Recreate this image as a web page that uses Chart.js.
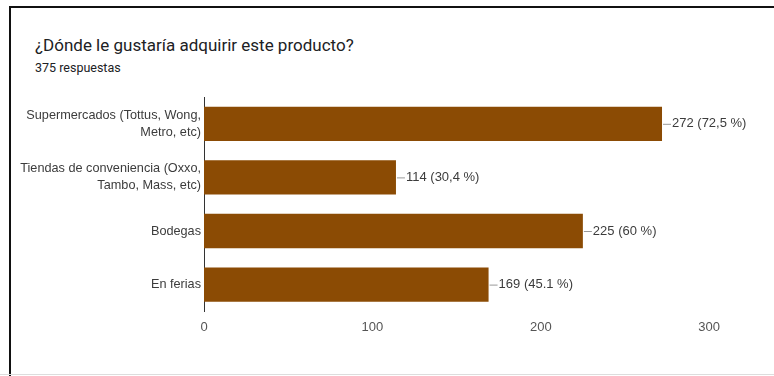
<!DOCTYPE html>
<html>
<head>
<meta charset="utf-8">
<script src="https://cdn.jsdelivr.net/npm/chart.js@4"></script>
<style>
  html, body { margin: 0; padding: 0; background: #fff; }
  #wrap { position: relative; width: 774px; height: 376px; overflow: hidden; background: #fff; }
  #frame { position: absolute; left: 9px; top: 6px; width: 780px; height: 400px;
           border-top: 2px solid #111; border-left: 2px solid #111; }
  #bottom { position: absolute; left: 0; top: 374px; width: 774px; height: 1px; background: #ddd; }
  #title { position: absolute; left: 35px; top: 35px; font: 17px Roboto, sans-serif; color: #202124; }
  #sub { position: absolute; left: 35px; top: 60px; font: 12.5px Roboto, sans-serif; color: #202124; }
  canvas { position: absolute; left: 0; top: 0; }
</style>
</head>
<body>
<div id="wrap">
  <div id="frame"></div>
  <div id="bottom"></div>
  <div id="title">¿Dónde le gustaría adquirir este producto?</div>
  <div id="sub">375 respuestas</div>
  <canvas id="chart-lugar" width="774" height="376"></canvas>
</div>
<script>
// opciones y respuestas
const categorias = [
  ["Supermercados (Tottus, Wong,", "Metro, etc)"],
  ["Tiendas de conveniencia (Oxxo,", "Tambo, Mass, etc)"],
  "Bodegas",
  "En ferias",
];
const respuestas = [272, 114, 225, 169];
const porcentajes = ["72,5 %", "30,4 %", "60 %", "45.1 %"];
const ticksX = [0, 100, 200, 300];

const fuente = "'Liberation Sans', Arial, sans-serif";

// etiqueta "valor (porcentaje)" al final de cada barra
const etiquetasBarras = {
  id: "etiquetasBarras",
  afterDatasetsDraw(chart) {
    const ctx = chart.ctx;
    const meta = chart.getDatasetMeta(0);
    ctx.save();
    ctx.font = "13px " + fuente;
    ctx.textBaseline = "middle";
    meta.data.forEach((bar, i) => {
      const x = bar.x;
      const y = bar.y;
      ctx.strokeStyle = "#999";
      ctx.lineWidth = 1;
      ctx.beginPath();
      ctx.moveTo(x + 1, y + 0.5);
      ctx.lineTo(x + 9, y + 0.5);
      ctx.stroke();
      ctx.fillStyle = "#3c3c3c";
      ctx.fillText(respuestas[i] + " (" + porcentajes[i] + ")", x + 10, y);
    });
    ctx.restore();
  },
};

const ctxLugar = document.getElementById("chart-lugar");
new Chart(ctxLugar, {
  type: "bar",
  data: {
    labels: categorias,
    datasets: [
      {
        data: respuestas,
        backgroundColor: "#8b4b04",
        borderWidth: 0,
        categoryPercentage: 1,
        barPercentage: 0.64,
      },
    ],
  },
  options: {
    indexAxis: "y",
    responsive: false,
    animation: false,
    layout: { padding: { top: 97, right: 48, bottom: 33, left: 0 } },
    plugins: {
      legend: { display: false },
      tooltip: { enabled: false },
    },
    scales: {
      x: {
        min: 0,
        max: 310,
        afterBuildTicks: (scale) => {
          scale.ticks = ticksX.map((v) => ({ value: v }));
        },
        grid: { display: false, drawTicks: false },
        border: { display: false },
        ticks: {
          padding: 8,
          color: "#555",
          font: { family: fuente, size: 13 },
        },
      },
      y: {
        afterFit: (scale) => {
          scale.width = 204;
        },
        grid: { display: false, drawTicks: false },
        border: { display: true, color: "#333", width: 1 },
        ticks: {
          padding: 3,
          color: "#3c3c3c",
          font: { family: fuente, size: 12.7, lineHeight: 1.35 },
        },
      },
    },
  },
  plugins: [etiquetasBarras],
});
</script>
</body>
</html>
